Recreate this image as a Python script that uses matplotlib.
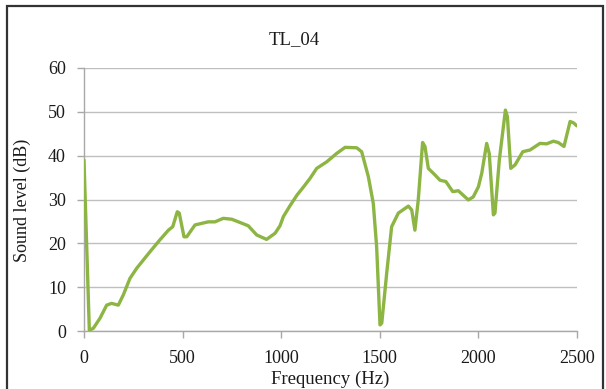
import matplotlib
matplotlib.use("Agg")
import matplotlib.pyplot as plt
from matplotlib.patches import Rectangle

freq = [0, 27, 47, 81, 115, 140, 174, 199, 233, 267, 335, 385, 428, 450, 473, 483,
        507, 521, 563, 630, 664, 706, 749, 800, 833, 876, 926, 969, 994, 1011, 1045,
        1080, 1112, 1146, 1180, 1231, 1281, 1324, 1383, 1408, 1442, 1467, 1484, 1501,
        1510, 1535, 1560, 1594, 1645, 1662, 1678, 1695, 1717, 1729, 1746, 1780, 1805,
        1835, 1870, 1898, 1949, 1974, 2000, 2017, 2042, 2055, 2076, 2084, 2106, 2137,
        2147, 2164, 2186, 2225, 2262, 2312, 2346, 2380, 2405, 2434, 2465, 2482, 2499]
level = [39.0, 0.2, 0.6, 2.9, 5.9, 6.3, 5.9, 8.2, 12.0, 14.3, 18.1, 20.8, 23.0, 23.8,
         27.2, 26.9, 21.5, 21.5, 24.2, 24.9, 24.9, 25.7, 25.5, 24.6, 24.0, 21.9, 20.9,
         22.3, 24.0, 26.1, 28.6, 31.0, 32.8, 34.8, 37.1, 38.6, 40.5, 41.9, 41.8, 40.9,
         35.2, 29.1, 19.2, 1.4, 1.8, 13.2, 23.8, 26.9, 28.5, 27.6, 23.0, 29.9, 43.0,
         42.1, 37.1, 35.6, 34.4, 34.1, 31.8, 32.0, 29.9, 30.6, 32.9, 36.0, 42.8, 40.5,
         26.5, 26.9, 39.0, 50.4, 48.9, 37.1, 37.9, 40.9, 41.3, 42.8, 42.7, 43.3, 43.0,
         42.1, 47.8, 47.5, 46.8]

x_ticks = [0, 500, 1000, 1500, 2000, 2500]
y_ticks = [0, 10, 20, 30, 40, 50, 60]

plt.rcParams['font.family'] = ['Liberation Serif', 'DejaVu Serif']

fig = plt.figure(figsize=(6.06, 3.89), dpi=100)
ax = fig.add_axes([84/606, 1-331/389, (577-84)/606, (331-68)/389])

ax.plot(freq, level, color='#8db544', lw=2.4, solid_joinstyle='round', solid_capstyle='round', zorder=3)

ax.set_xlim(0, 2500)
ax.set_ylim(0, 60)
ax.set_xticks(x_ticks)
ax.set_yticks(y_ticks)
ax.tick_params(axis='both', labelsize=13, labelcolor='#1a1a1a', color='#a8a8a8', length=5, width=1)
ax.tick_params(axis='y', pad=8)
ax.tick_params(axis='x', pad=9)
ax.yaxis.grid(True, color='#bfbfbf', lw=1)
ax.set_axisbelow(True)
for s in ['top', 'right']:
    ax.spines[s].set_visible(False)
for s in ['left', 'bottom']:
    ax.spines[s].set_color('#a8a8a8')
    ax.spines[s].set_linewidth(1)

fig.text(330/606, 1-379/389, 'Frequency (Hz)', fontsize=13.5, ha='center', va='center', color='#1a1a1a')
fig.text(22.5/606, 1-200/389, 'Sound level (dB)', fontsize=13, ha='center', va='center',
         rotation=90, color='#1a1a1a')
fig.text(294/606, 1-40/389, 'TL_04', fontsize=13.5, ha='center', va='center', color='#1a1a1a')

fig.patches.append(Rectangle((7/606, -0.02), (603-7)/606, (389-6)/389 + 0.02,
                             transform=fig.transFigure, fill=False, edgecolor='#333333', lw=1.6))

fig.savefig('out.png', dpi=100)
